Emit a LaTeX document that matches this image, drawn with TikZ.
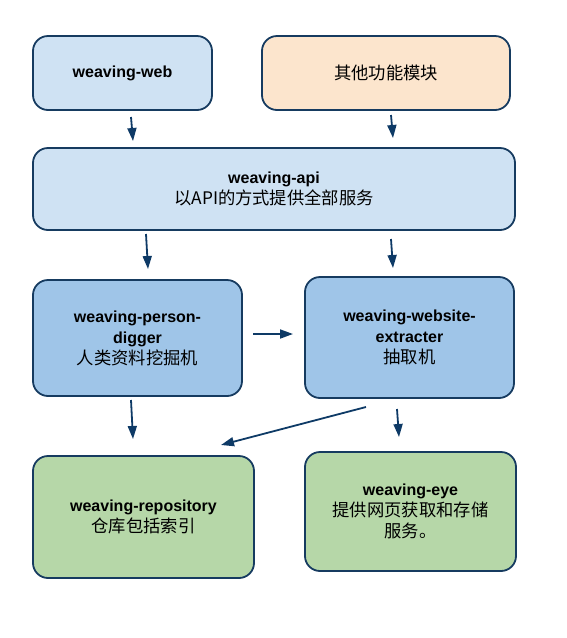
\documentclass[tikz,border=0pt]{standalone}
\usepackage{fontspec}
\setmainfont{Liberation Sans}
\newfontfamily\cjk{Noto Sans CJK SC}
\usetikzlibrary{arrows.meta}
\definecolor{bordc}{HTML}{163B60}
\definecolor{arrc}{HTML}{0E3A66}
\definecolor{lblue}{HTML}{CFE2F3}
\definecolor{mblue}{HTML}{9FC5E8}
\definecolor{lorange}{HTML}{FCE5CD}
\definecolor{lgreen}{HTML}{B6D7A8}
\tikzset{
  box/.style={draw=bordc, line width=1.8pt, rounded corners=15pt, align=center,
    inner sep=0pt, font=\fontsize{16}{21}\selectfont},
  arr/.style={draw=arrc, line width=1.8pt, -{Triangle[length=13pt,width=9pt]}},
}
\newcommand{\bt}[1]{\textbf{#1}}
\newcommand{\zh}[1]{{\cjk\fontsize{17.3}{21}\selectfont #1}}
\begin{document}
\begin{tikzpicture}[x=1pt,y=-1pt]
\useasboundingbox (0,0) rectangle (567,638);
\node[box, fill=lblue, minimum width=179pt, minimum height=74pt] (web) at (122.5,73) {\bt{weaving-web}};
\node[box, fill=lorange, minimum width=248pt, minimum height=74pt] (other) at (386,73) {\zh{其他功能模块}};
\node[box, fill=lblue, minimum width=482pt, minimum height=82pt] (api) at (274,189) {\bt{weaving-api}\\\zh{以API的方式提供全部服务}};
\node[box, fill=mblue, minimum width=209pt, minimum height=116pt] (person) at (137.5,338) {\bt{weaving-person-}\\\bt{digger}\\\zh{人类资料挖掘机}};
\node[box, fill=mblue, minimum width=209pt, minimum height=121pt] (extr) at (409.5,337.5) {\bt{weaving-website-}\\\bt{extracter}\\\zh{抽取机}};
\node[box, fill=lgreen, minimum width=221pt, minimum height=122pt] (repo) at (143.5,517) {\bt{weaving-repository}\\\zh{仓库包括索引}};
\node[box, fill=lgreen, minimum width=211pt, minimum height=119pt] (eye) at (410.5,511.5) {\bt{weaving-eye}\\\zh{提供网页获取和存储}\\\zh{服务。}};

\coordinate (a1s) at (131,117); \coordinate (a1e) at (133,141);
\coordinate (a2s) at (391,115); \coordinate (a2e) at (393,138);
\coordinate (a3s) at (146,234); \coordinate (a3e) at (148,269);
\coordinate (a4s) at (391,239); \coordinate (a4e) at (393,268);
\coordinate (a5s) at (253,334); \coordinate (a5e) at (293,334);
\coordinate (a6s) at (131,400); \coordinate (a6e) at (133,439);
\coordinate (a7s) at (366,407); \coordinate (a7e) at (221,445);
\coordinate (a8s) at (397,409); \coordinate (a8e) at (399,437);
\draw[arr] (a1s) -- (a1e);
\draw[arr] (a2s) -- (a2e);
\draw[arr] (a3s) -- (a3e);
\draw[arr] (a4s) -- (a4e);
\draw[arr] (a5s) -- (a5e);
\draw[arr] (a6s) -- (a6e);
\draw[arr] (a7s) -- (a7e);
\draw[arr] (a8s) -- (a8e);
\end{tikzpicture}
\end{document}
